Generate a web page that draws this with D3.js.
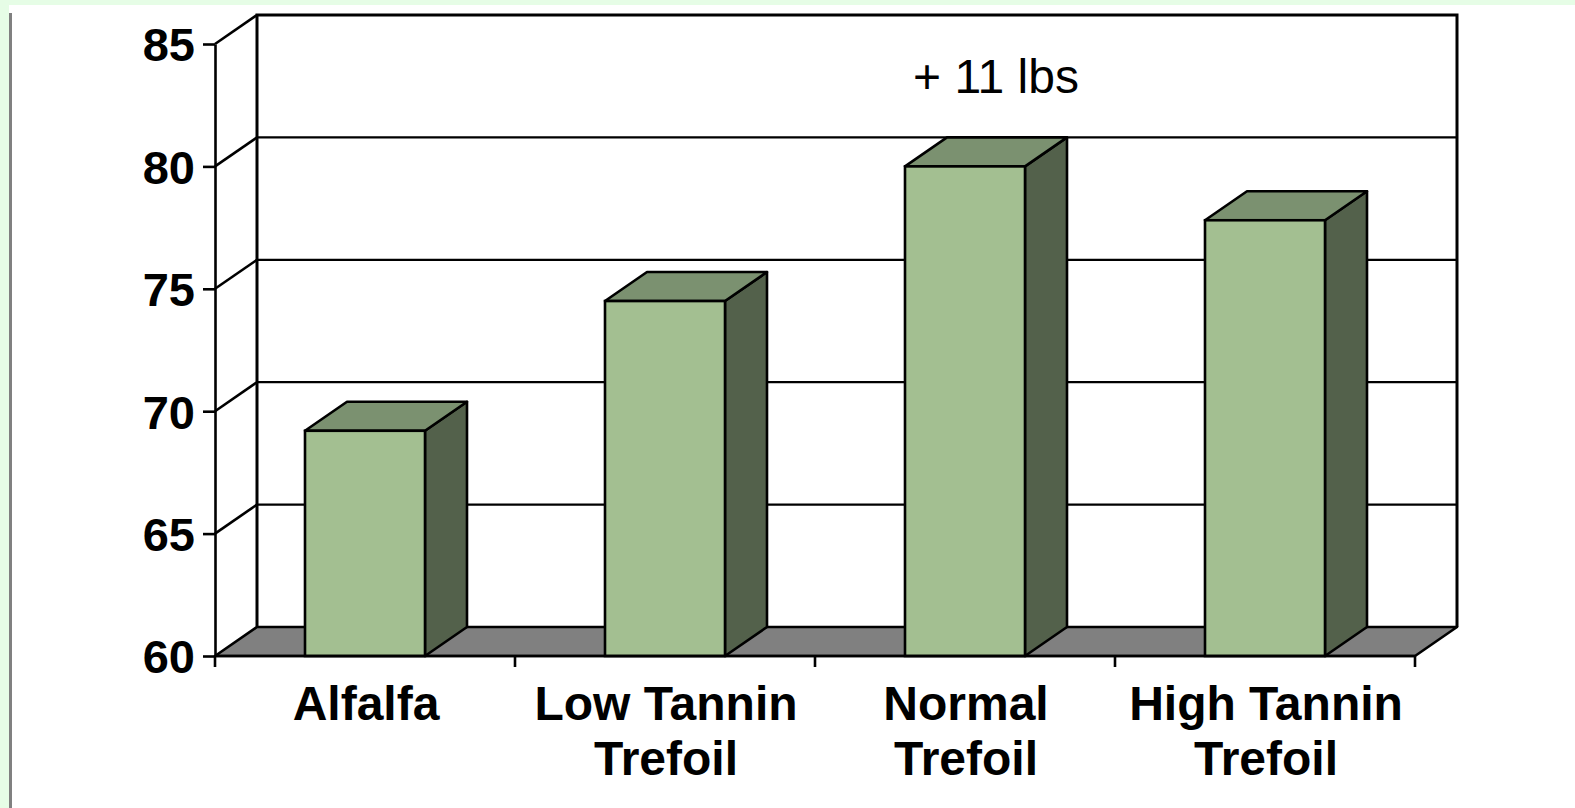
<!DOCTYPE html>
<html>
<head>
<meta charset="utf-8">
<script src="https://cdn.jsdelivr.net/npm/d3@7"></script>
<style>
  html, body { margin: 0; padding: 0; background: #ffffff; }
  svg { display: block; }
  text { font-family: Arial, "Liberation Sans", sans-serif; }
</style>
</head>
<body>
<svg id="chart" width="1575" height="808"></svg>
<script>
// Average weight per forage (lbs)
const categories = ["Alfalfa", "Low Tannin Trefoil", "Normal Trefoil", "High Tannin Trefoil"];
const categoryLines = [["Alfalfa"], ["Low Tannin", "Trefoil"], ["Normal", "Trefoil"], ["High Tannin", "Trefoil"]];
const values = [69.2, 74.5, 80.0, 77.8];
const yTicks = [60, 65, 70, 75, 80, 85];
const annotation = "+ 11 lbs";

(function () {
  const W = 1575, H = 808;
  const svg = d3.select("#chart");

  // page frame
  svg.append("rect").attr("x", 0).attr("y", 0).attr("width", W).attr("height", H).attr("fill", "#ffffff");
  svg.append("rect").attr("x", 0).attr("y", 0).attr("width", W).attr("height", 5).attr("fill", "#e6fde6");
  svg.append("rect").attr("x", 0).attr("y", 0).attr("width", 9).attr("height", H).attr("fill", "#e6fde6");
  svg.append("rect").attr("x", 9).attr("y", 13).attr("width", 3).attr("height", H - 13).attr("fill", "#808080");

  // plot geometry: front plane plus an oblique depth offset
  const pLeft = 215, pRight = 1415, pTop = 44, pBottom = 656;
  const dx = 42, dy = -29;

  const y = d3.scaleLinear().domain([60, 85]).range([pBottom, pTop]);
  const x = d3.scaleBand().domain(categories).range([pLeft, pRight]).padding(0);
  const barFrac = 0.4;

  const g = svg.append("g");
  const lw = 2.6;

  // back wall
  g.append("rect")
    .attr("x", pLeft + dx).attr("y", y(85) + dy)
    .attr("width", pRight - pLeft).attr("height", y(60) - y(85))
    .attr("fill", "#ffffff");

  // gridlines on back wall and side wall
  g.selectAll("line.grid").data(yTicks.filter(v => v > 60 && v < 85)).join("line")
    .attr("class", "grid")
    .attr("x1", pLeft + dx).attr("x2", pRight + dx)
    .attr("y1", d => y(d) + dy).attr("y2", d => y(d) + dy)
    .attr("stroke", "#000").attr("stroke-width", 2.3);

  g.selectAll("line.side").data(yTicks.filter(v => v > 60)).join("line")
    .attr("class", "side")
    .attr("x1", pLeft).attr("x2", pLeft + dx)
    .attr("y1", d => y(d)).attr("y2", d => y(d) + dy)
    .attr("stroke", "#000").attr("stroke-width", lw);

  // back wall outline (left, top, right)
  g.append("path")
    .attr("d", `M${pLeft + dx},${y(60) + dy} V${y(85) + dy} H${pRight + dx} V${y(60) + dy}`)
    .attr("fill", "none").attr("stroke", "#000").attr("stroke-width", 3);

  // floor
  g.append("path")
    .attr("d", `M${pLeft},${y(60)} L${pRight},${y(60)} L${pRight + dx},${y(60) + dy} L${pLeft + dx},${y(60) + dy} Z`)
    .attr("fill", "#808080").attr("stroke", "#000").attr("stroke-width", lw).attr("stroke-linejoin", "round");

  // bars
  const bars = g.selectAll("g.bar").data(categories.map((c, i) => ({ c, v: values[i] }))).join("g").attr("class", "bar");
  bars.each(function (d) {
    const b = d3.select(this);
    const x0 = x(d.c) + x.bandwidth() * (1 - barFrac) / 2;
    const x1 = x0 + x.bandwidth() * barFrac;
    const yt = y(d.v), yb = y(60);
    // side face
    b.append("path")
      .attr("d", `M${x1},${yb} L${x1},${yt} L${x1 + dx},${yt + dy} L${x1 + dx},${yb + dy} Z`)
      .attr("fill", "#53614b").attr("stroke", "#000").attr("stroke-width", lw).attr("stroke-linejoin", "round");
    // top face
    b.append("path")
      .attr("d", `M${x0},${yt} L${x0 + dx},${yt + dy} L${x1 + dx},${yt + dy} L${x1},${yt} Z`)
      .attr("fill", "#7b9170").attr("stroke", "#000").attr("stroke-width", lw).attr("stroke-linejoin", "round");
    // front face
    b.append("rect")
      .attr("x", x0).attr("y", yt).attr("width", x1 - x0).attr("height", yb - yt)
      .attr("fill", "#a3bf91").attr("stroke", "#000").attr("stroke-width", lw);
  });

  // value axis
  const yAxis = d3.axisLeft(y).tickValues(yTicks).tickSize(12).tickSizeOuter(0).tickPadding(8);
  const ya = g.append("g").attr("transform", `translate(${pLeft},0)`).call(yAxis);
  ya.select(".domain").attr("stroke", "#000").attr("stroke-width", lw);
  ya.selectAll(".tick line").attr("stroke", "#000").attr("stroke-width", lw);
  ya.selectAll(".tick text")
    .attr("fill", "#000").attr("font-size", 47).attr("font-weight", "bold")
    .attr("font-family", "Arial, 'Liberation Sans', sans-serif").attr("dy", "0.36em");

  // category axis: front edge, boundary ticks and labels
  g.append("line").attr("x1", pLeft).attr("x2", pRight).attr("y1", y(60)).attr("y2", y(60))
    .attr("stroke", "#000").attr("stroke-width", lw);
  const bounds = categories.map(c => x(c)).concat([x(categories[categories.length - 1]) + x.bandwidth()]);
  g.selectAll("line.xtick").data(bounds).join("line")
    .attr("class", "xtick")
    .attr("x1", d => d).attr("x2", d => d)
    .attr("y1", y(60)).attr("y2", y(60) + 11)
    .attr("stroke", "#000").attr("stroke-width", lw);

  const labels = g.selectAll("text.cat").data(categories).join("text")
    .attr("class", "cat")
    .attr("text-anchor", "middle")
    .attr("font-size", 48).attr("font-weight", "bold").attr("fill", "#000");
  labels.each(function (c, i) {
    const t = d3.select(this);
    categoryLines[i].forEach((line, j) => {
      t.append("tspan").attr("x", x(c) + x.bandwidth() / 2 + 1).attr("y", 720 + j * 55).text(line);
    });
  });

  // difference annotation
  g.append("text")
    .attr("x", 996).attr("y", 93)
    .attr("text-anchor", "middle")
    .attr("font-size", 48).attr("fill", "#000")
    .text(annotation);
})();
</script>
</body>
</html>
